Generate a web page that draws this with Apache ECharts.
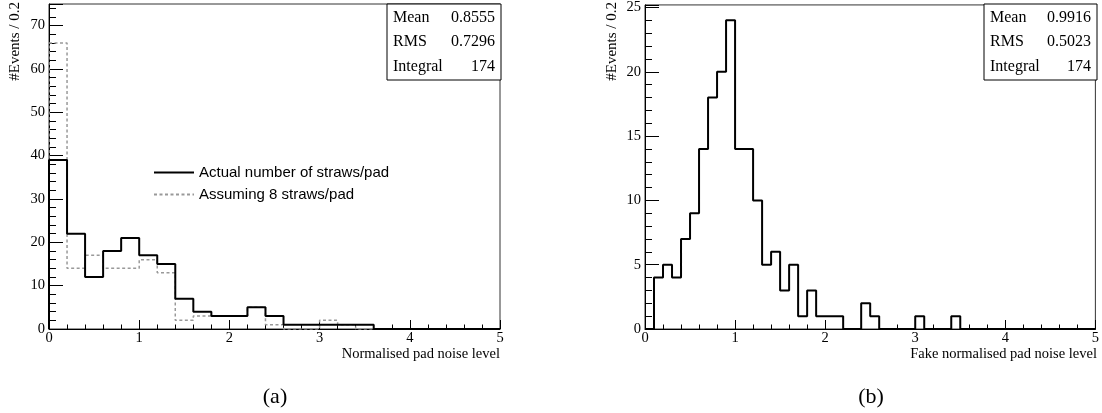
<!DOCTYPE html>
<html>
<head>
<meta charset="utf-8">
<script src="https://cdn.jsdelivr.net/npm/echarts@6/dist/echarts.min.js"></script>
<style>
html,body{margin:0;padding:0;background:#fff;}
#chart{width:1102px;height:413px;}
</style>
</head>
<body>
<div id="chart"></div>
<script>
// ---- data ----
const binWidthA = 0.2;
const actualCounts  = [39,22,12,18,21,17,15,7,4,3,3,5,3,1,1,1,1,1,0,0,0,0,0,0,0];
const assumedCounts = [66,14,17,14,14,16,13,2,3,3,3,5,1,0,0,2,1,0,0,0,0,0,0,0,0];
const binWidthB = 0.1;
const fakeCounts = [0,4,5,4,7,9,14,18,20,24,
                    14,14,10,5,6,3,5,1,3,1,
                    1,1,0,0,2,1,0,0,0,0,
                    1,0,0,0,1,0,0,0,0,0,
                    0,0,0,0,0,0,0,0,0,0];
const xTicks = [0,1,2,3,4,5];
const seriesNames = ['Actual number of straws/pad', 'Assuming 8 straws/pad'];
const statsLabels = ['Mean', 'RMS', 'Integral'];
const statsA = ['0.8555', '0.7296', '174'];
const statsB = ['0.9916', '0.5023', '174'];
const yTitle = '#Events / 0.2';
const xTitleA = 'Normalised pad noise level';
const xTitleB = 'Fake normalised pad noise level';
const panelLabels = ['(a)', '(b)'];

// histogram outline points: start at 0, each bin's left edge, close at right end
function histPoints(counts, w) {
  const pts = [[0, 0]];
  counts.forEach((c, i) => pts.push([+(i * w).toFixed(4), c]));
  pts.push([+(counts.length * w).toFixed(4), 0]);
  return pts;
}

const serif = 'Liberation Serif';
const sans = 'Liberation Sans';

function xAxisDef(gi) {
  return {
    type: 'value', gridIndex: gi, min: 0, max: 5, interval: 1,
    axisLine: { show: true, onZero: false, lineStyle: { color: '#000', width: 1 } },
    axisTick: { show: true, inside: true, length: 9, lineStyle: { color: '#000' } },
    minorTick: { show: true, splitNumber: 5, length: 4.5, lineStyle: { color: '#000' } },
    splitLine: { show: false },
    axisLabel: { margin: 2, color: '#000', fontFamily: serif, fontSize: 14.5,
      formatter: v => (xTicks.indexOf(v) >= 0 ? String(v) : '') }
  };
}
function yMajor(gi, max, interval) {
  return {
    type: 'value', gridIndex: gi, position: 'left', min: 0, max: max, interval: interval,
    axisLine: { show: true, onZero: false, lineStyle: { color: '#000', width: 1 } },
    axisTick: { show: true, inside: true, length: 14, lineStyle: { color: '#000' } },
    splitLine: { show: false },
    axisLabel: { margin: 4, color: '#000', fontFamily: serif, fontSize: 14.5,
      formatter: v => (Math.abs(v % interval) < 1e-9 ? String(v) : '') }
  };
}
function yMinor(gi, max, interval) {
  return {
    type: 'value', gridIndex: gi, position: 'left', min: 0, max: max, interval: interval,
    axisLine: { show: false },
    axisTick: { show: true, inside: true, length: 7, lineStyle: { color: '#000' } },
    splitLine: { show: false },
    axisLabel: { show: false }
  };
}

function statsBox(x0, x1, labels, values) {
  const els = [{
    type: 'rect', shape: { x: x0, y: 4, width: x1 - x0, height: 76 },
    style: { fill: '#fff', stroke: '#000', lineWidth: 1 }, z: 10
  }];
  const ys = [18, 42, 67];
  labels.forEach((l, i) => {
    els.push({ type: 'text', x: x0 + 6, y: ys[i], z: 11,
      style: { text: l, fill: '#000', font: '16px ' + serif, textAlign: 'left', textVerticalAlign: 'middle' } });
    els.push({ type: 'text', x: x1 - 6, y: ys[i], z: 11,
      style: { text: values[i], fill: '#000', font: '16px ' + serif, textAlign: 'right', textVerticalAlign: 'middle' } });
  });
  return els;
}

const chart = echarts.init(document.getElementById('chart'), null, { renderer: 'canvas' });
const option = {
  backgroundColor: '#fff',
  animation: false,
  grid: [
    { left: 49, top: 4, width: 451, height: 325, show: true, borderColor: '#333', borderWidth: 1, backgroundColor: 'transparent' },
    { left: 645, top: 4, width: 451, height: 325, show: true, borderColor: '#333', borderWidth: 1, backgroundColor: 'transparent' }
  ],
  xAxis: [xAxisDef(0), xAxisDef(1)],
  yAxis: [yMajor(0, 75, 10), yMinor(0, 75, 2), yMajor(1, 25.2, 5), yMinor(1, 25.2, 1)],
  legend: {
    data: seriesNames, orient: 'vertical', left: 148, top: 160,
    itemWidth: 40, itemHeight: 14, itemGap: 7,
    itemStyle: { opacity: 0, borderWidth: 0 },
    textStyle: { fontFamily: sans, fontSize: 15, color: '#000', padding: 0 }
  },
  series: [
    { name: seriesNames[1], type: 'line', xAxisIndex: 0, yAxisIndex: 0, step: 'end',
      data: histPoints(assumedCounts, binWidthA), symbol: 'none', showSymbol: false,
      lineStyle: { color: '#999', width: 1.5, type: [3, 2.5] }, itemStyle: { color: '#999' }, z: 3 },
    { name: seriesNames[0], type: 'line', xAxisIndex: 0, yAxisIndex: 0, step: 'end',
      data: histPoints(actualCounts, binWidthA), symbol: 'none', showSymbol: false,
      lineStyle: { color: '#000', width: 2 }, itemStyle: { color: '#000' }, z: 4 },
    { name: 'fake', type: 'line', xAxisIndex: 1, yAxisIndex: 2, step: 'end',
      data: histPoints(fakeCounts, binWidthB), symbol: 'none', showSymbol: false,
      lineStyle: { color: '#000', width: 2 }, z: 4 }
  ],
  graphic: [
    { type: 'text', x: 15, y: 2, rotation: Math.PI / 2,
      style: { text: yTitle, fill: '#000', font: '15px ' + serif, textAlign: 'right', textVerticalAlign: 'middle' } },
    { type: 'text', x: 612, y: 2, rotation: Math.PI / 2,
      style: { text: yTitle, fill: '#000', font: '15px ' + serif, textAlign: 'right', textVerticalAlign: 'middle' } },
    { type: 'text', x: 500, y: 354,
      style: { text: xTitleA, fill: '#000', font: '14.5px ' + serif, textAlign: 'right', textVerticalAlign: 'middle' } },
    { type: 'text', x: 1097, y: 354,
      style: { text: xTitleB, fill: '#000', font: '14.5px ' + serif, textAlign: 'right', textVerticalAlign: 'middle' } },
    { type: 'text', x: 275, y: 397,
      style: { text: panelLabels[0], fill: '#000', font: '22px ' + serif, textAlign: 'center', textVerticalAlign: 'middle' } },
    { type: 'text', x: 871, y: 397,
      style: { text: panelLabels[1], fill: '#000', font: '22px ' + serif, textAlign: 'center', textVerticalAlign: 'middle' } }
  ].concat(statsBox(387, 501, statsLabels, statsA), statsBox(984, 1097, statsLabels, statsB))
};
chart.setOption(option);
</script>
</body>
</html>
